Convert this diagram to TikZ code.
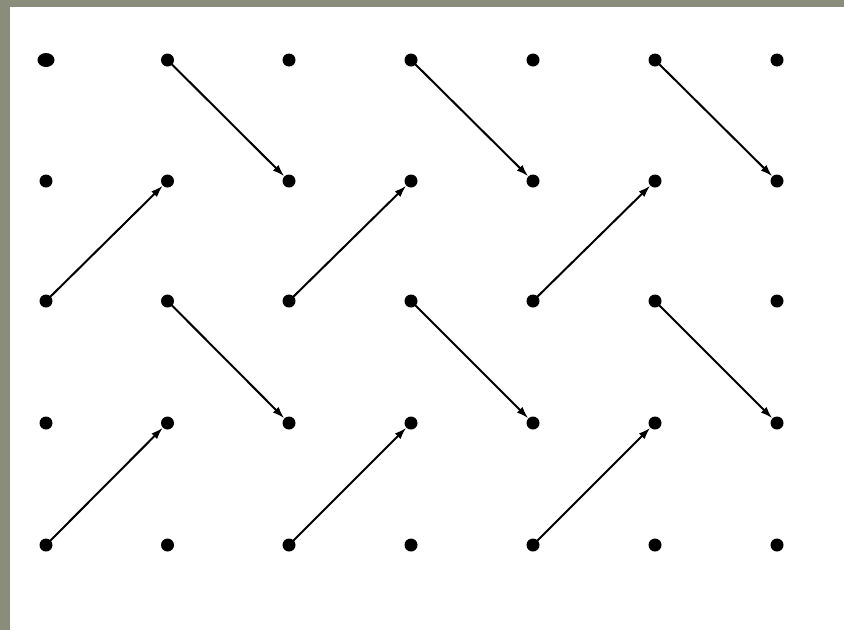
\documentclass[tikz,border=0pt]{standalone}
\usetikzlibrary{arrows.meta,shapes.geometric}
\definecolor{frame}{HTML}{8A8C7C}
\tikzset{
  dot/.style={circle, fill=black, inner sep=0pt, minimum size=13pt},
  arr/.style={line width=2pt, -{Latex[length=12pt,width=8pt]}, shorten <=-4pt}
}
\begin{document}
\begin{tikzpicture}[x=1pt,y=-1pt]
\fill[frame] (0,0) rectangle (844,630);
\fill[white] (10,7) rectangle (844,630);
\useasboundingbox (0,0) rectangle (844,630);
\foreach \r/\yy in {0/60,1/181,2/301,3/423,4/545}{
  \foreach \c/\xx in {0/46,1/167.5,2/289,3/411,4/533,5/655,6/777}{
    \node[dot] (d-\r-\c) at (\xx,\yy) {};
  }
}
\node[ellipse, fill=black, inner sep=0pt, minimum width=17pt, minimum height=14pt] (big) at (d-0-0) {};
% down-right arrows
\draw[arr] (d-0-1) -- (d-1-2);
\draw[arr] (d-0-3) -- (d-1-4);
\draw[arr] (d-0-5) -- (d-1-6);
\draw[arr] (d-2-1) -- (d-3-2);
\draw[arr] (d-2-3) -- (d-3-4);
\draw[arr] (d-2-5) -- (d-3-6);
% up-right arrows
\draw[arr] (d-2-0) -- (d-1-1);
\draw[arr] (d-2-2) -- (d-1-3);
\draw[arr] (d-2-4) -- (d-1-5);
\draw[arr] (d-4-0) -- (d-3-1);
\draw[arr] (d-4-2) -- (d-3-3);
\draw[arr] (d-4-4) -- (d-3-5);
\end{tikzpicture}
\end{document}
